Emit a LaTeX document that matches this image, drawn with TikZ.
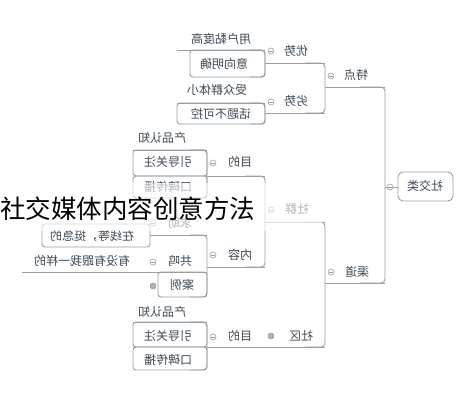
\documentclass[tikz,border=0pt]{standalone}
\usepackage{graphicx}
\usepackage{fontspec}
\newfontfamily\cjk{Noto Sans CJK SC}
\definecolor{linec}{HTML}{9A9EA3}
\definecolor{txtc}{HTML}{3E4955}
\tikzset{
  txt/.style={font=\cjk\fontsize{12}{14}\selectfont, text=txtc, inner sep=0pt},
  ln/.style={draw=linec, line width=0.9pt},
  br/.style={ln, rounded corners=4pt},
  boxx/.style={ln, rounded corners=3pt},
  tog/.style={circle, draw=linec, fill=white, minimum size=6pt, inner sep=0pt, line width=0.6pt,
    path picture={\draw[linec, line width=0.5pt] ([xshift=-1.6pt]path picture bounding box.center) -- ([xshift=1.6pt]path picture bounding box.center);}},
  togc/.style={circle, draw=linec, fill=linec!80, minimum size=6pt, inner sep=0pt, line width=0.6pt},
}
\newcommand{\mtx}[1]{\reflectbox{#1}}
\begin{document}
\begin{tikzpicture}[x=1pt,y=-1pt]
\useasboundingbox[fill=white] (0,0) rectangle (476,400);

% ---------- lines: group 特点 ----------
\draw[ln] (177,50) -- (265,50);
\draw[boxx] (190,50) rectangle (265,77);
\draw[ln] (265,63) -- (325,63);
\draw[br] (250,50) -- (265,50) -- (265,77) -- (250,77);
\draw[ln] (177,103) -- (265,103);
\draw[boxx] (177,103) rectangle (265,124);
\draw[ln] (265,113) -- (325,113);
\draw[br] (250,103) -- (265,103) -- (265,124) -- (250,124);
\draw[br] (305,63) -- (325,63) -- (325,113) -- (305,113);
\draw[ln] (325,87) -- (385,87);

% ---------- root ----------
\draw[br] (360,87) -- (385,87) -- (385,283) -- (360,283);
\draw[ln] (385,187) -- (398,187);
\draw[ln, rounded corners=5pt] (398,172) rectangle (453,201);

% ---------- group 渠道 ----------
\draw[ln] (325,283) -- (385,283);
\draw[br] (305,222) -- (325,222) -- (325,347) -- (305,347);
\draw[ln] (265,222) -- (325,222);
\draw[br] (245,176) -- (265,176) -- (265,267) -- (245,267);
\draw[ln] (207,176) -- (265,176);
\draw[br] (190,150) -- (207,150) -- (207,198) -- (190,198);
\draw[ln] (133,150) -- (207,150);
\draw[boxx] (133,150) rectangle (207,176);
\draw[boxx] (133,176) rectangle (207,198);
\draw[ln] (207,267) -- (265,267);
\draw[br] (190,235) -- (207,235) -- (207,297) -- (190,297);
\draw[ln] (150,235) -- (207,235);
\draw[boxx] (42,224) rectangle (150,247);
\draw[ln] (22,272) -- (207,272);
\draw[boxx] (158,272) rectangle (207,297);
\draw[ln] (207,347) -- (325,347);
\draw[br] (190,322) -- (207,322) -- (207,370) -- (190,370);
\draw[ln] (133,322) -- (207,322);
\draw[boxx] (133,322) rectangle (207,347);
\draw[boxx] (133,347) rectangle (207,370);

% ---------- texts ----------
\node[txt] (root) at (425,186) {\mtx{社交类}};
\node[txt] (tedian) at (356,75) {\mtx{特点}};
\node[txt] (youshi) at (296,51) {\mtx{优势}};
\node[txt] (yh) at (221,39) {\mtx{用户黏度高}};
\node[txt] (yx) at (224,64) {\mtx{意向明确}};
\node[txt] (lieshi) at (296,101) {\mtx{劣势}};
\node[txt] (sz) at (217,90) {\mtx{受众群体小}};
\node[txt] (ht) at (221,114) {\mtx{话题不可控}};
\node[txt] (qudao) at (357,272) {\mtx{渠道}};
\node[txt] (shequn) at (297,209) {\mtx{社群}};
\node[txt] (mda) at (240,162) {\mtx{目的}};
\node[txt] (cpa) at (162,138) {\mtx{产品认知}};
\node[txt] (yda) at (168,162) {\mtx{引导关注}};
\node[txt] (kba) at (168,187) {\mtx{口碑传播}};
\node[txt] (neirong) at (240,255) {\mtx{内容}};
\node[txt] (qiuzhu) at (180,223) {\mtx{求助}};
\node[txt] (zx) at (92,236) {\mtx{在线等，挺急的}};
\node[txt] (gm) at (180,261) {\mtx{共鸣}};
\node[txt] (my) at (82,261) {\mtx{有没有跟我一样的}};
\node[txt] (al) at (182,285) {\mtx{案例}};
\node[txt] (shequ) at (301,336) {\mtx{社区}};
\node[txt] (mdb) at (240,336) {\mtx{目的}};
\node[txt] (cpb) at (162,312) {\mtx{产品认知}};
\node[txt] (ydb) at (168,336) {\mtx{引导关注}};
\node[txt] (kbb) at (168,360) {\mtx{口碑传播}};

% ---------- toggles ----------
\node[tog] (t0) at (390,187) {};
\node[tog] (t1) at (331,76) {};
\node[tog] (t2) at (271,51) {};
\node[tog] (t3) at (271,102) {};
\node[tog] (t4) at (331,272) {};
\node[tog] (t5) at (271,210) {};
\node[tog] (t6) at (213,163) {};
\node[tog] (t7) at (213,255) {};
\node[tog] (t8) at (153,223) {};
\node[tog] (t9) at (153,262) {};
\node[togc] (t10) at (153,286) {};
\node[togc] (t11) at (271,336) {};
\node[tog] (t12) at (213,337) {};

% ---------- title overlay ----------
\fill[white, opacity=0.6] (0,183) rectangle (322,231);
\node[font=\cjk\fontsize{25.5}{28}\selectfont, text=black, inner sep=0pt, anchor=west] (title) at (0,209) {社交媒体内容创意方法};
\end{tikzpicture}
\end{document}
